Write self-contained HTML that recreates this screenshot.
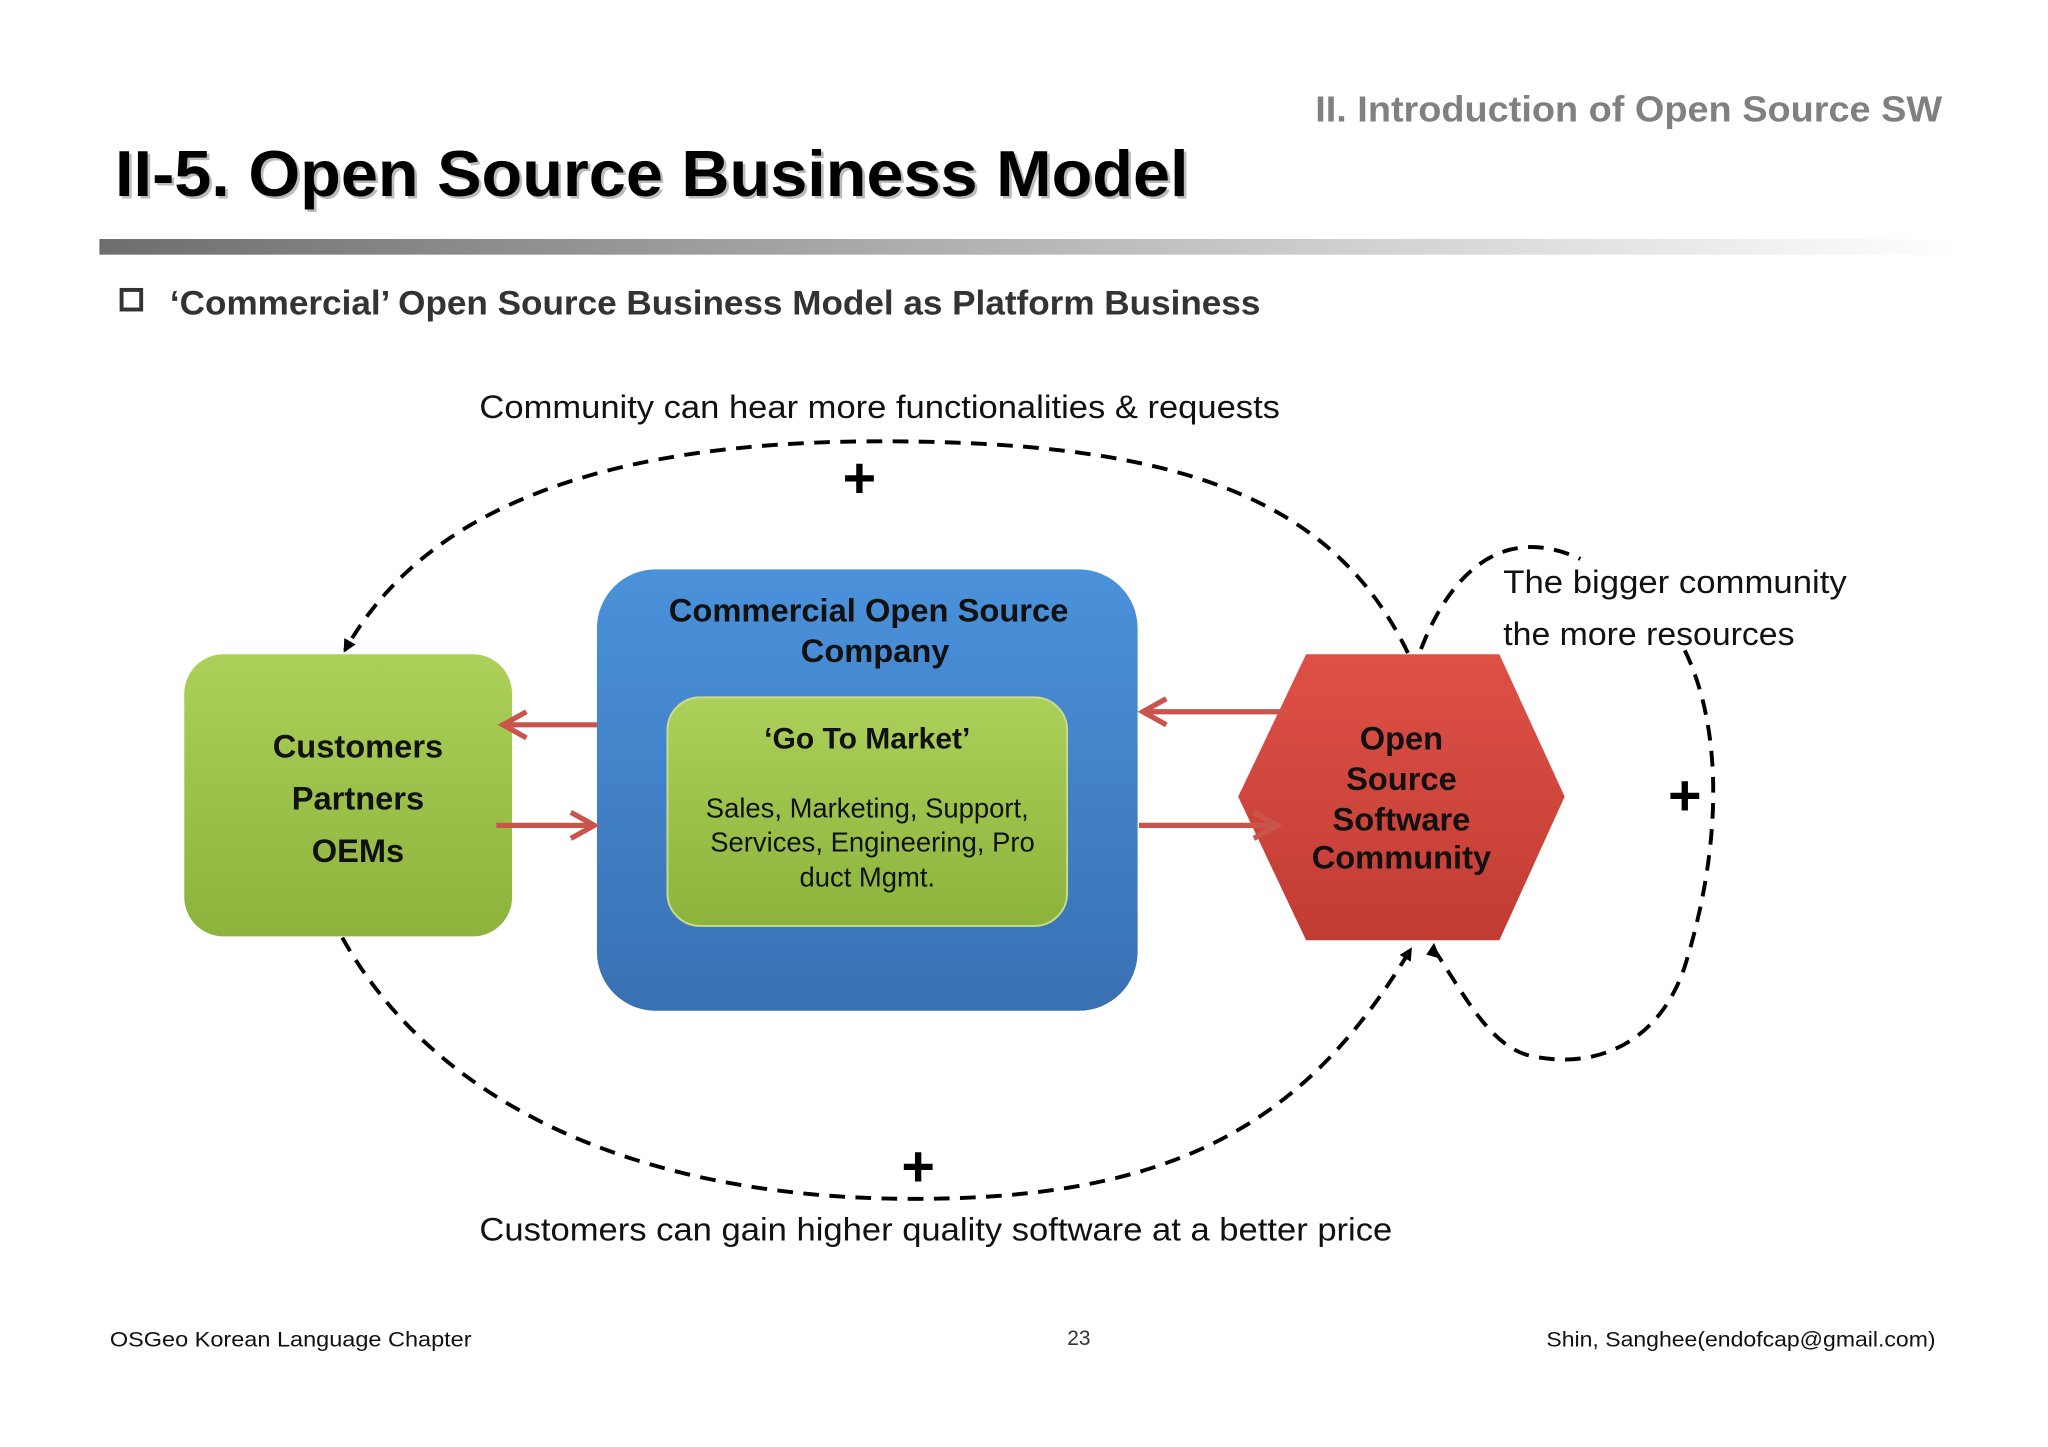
<!DOCTYPE html>
<html><head><meta charset="utf-8"><style>
html,body{margin:0;padding:0;background:#fff;}
svg{display:block;}
text{font-family:"Liberation Sans","DejaVu Sans",sans-serif;}
</style></head><body>
<svg width="2048" height="1447" viewBox="0 0 1568 1108" xmlns="http://www.w3.org/2000/svg">
<defs>
<linearGradient id="bar" x1="0" x2="1" y1="0" y2="0"><stop offset="0" stop-color="#6e6e6e"/><stop offset="1" stop-color="#ffffff"/></linearGradient>
<linearGradient id="g1" x1="0" x2="0" y1="0" y2="1"><stop offset="0" stop-color="#acd05a"/><stop offset="1" stop-color="#8cb33c"/></linearGradient>
<linearGradient id="b1" x1="0" x2="0" y1="0" y2="1"><stop offset="0" stop-color="#4a92db"/><stop offset="1" stop-color="#3970b3"/></linearGradient>
<linearGradient id="r1" x1="0" x2="0" y1="0" y2="1"><stop offset="0" stop-color="#de5046"/><stop offset="1" stop-color="#c13c33"/></linearGradient>
<marker id="ah" markerWidth="10" markerHeight="10" refX="8" refY="5" orient="auto" markerUnits="userSpaceOnUse"><path d="M0,0 L10,5 L0,10 Z" fill="#000"/></marker>
<marker id="rh" markerWidth="24" markerHeight="24" refX="20" refY="12" orient="auto" markerUnits="userSpaceOnUse"><path d="M2,2 L20,12 L2,22" fill="none" stroke="#c9544c" stroke-width="4"/></marker>
</defs>
<text x="1487" y="93" text-anchor="end" font-size="28" font-weight="bold" fill="#808080" textLength="480" lengthAdjust="spacingAndGlyphs">II. Introduction of Open Source SW</text>
<text x="90" y="152" font-size="50" font-weight="bold" fill="#bbb" textLength="822" lengthAdjust="spacingAndGlyphs">II-5. Open Source Business Model</text>
<text x="88" y="150" font-size="50" font-weight="bold" fill="#000" textLength="822" lengthAdjust="spacingAndGlyphs">II-5. Open Source Business Model</text>
<rect x="76" y="183" width="1424" height="12" fill="url(#bar)"/>
<rect x="93" y="222" width="15" height="15" fill="none" stroke="#333" stroke-width="3"/>
<text x="130" y="241" font-size="26" font-weight="bold" fill="#333" textLength="835" lengthAdjust="spacingAndGlyphs">‘Commercial’ Open Source Business Model as Platform Business</text>
<text x="367" y="320" font-size="25" fill="#111" textLength="613" lengthAdjust="spacingAndGlyphs">Community can hear more functionalities &amp; requests</text>
<g fill="none" stroke="#000" stroke-width="3" stroke-dasharray="12,8">
<path d="M1078,500 C1020,380 900,336 660,338 C480,340 330,380 264,498" marker-end="url(#ah)"/>
<path d="M262,718 C330,840 480,918 700,918 C900,918 1000,860 1080,727" marker-end="url(#ah)"/>
<path d="M1088,497 C1110,440 1150,400 1210,428 M1290,498 C1320,560 1318,650 1290,740 C1270,800 1220,820 1170,808 C1140,800 1120,760 1098,727" />
</g>
<path d="M1103,734 L1098,722 L1092,731" fill="#000"/>
<text x="658" y="381" text-anchor="middle" font-size="44" font-weight="bold">+</text>
<text x="703" y="908" text-anchor="middle" font-size="44" font-weight="bold">+</text>
<text x="1290" y="624" text-anchor="middle" font-size="44" font-weight="bold">+</text>
<text x="1151" y="454" font-size="25" fill="#111" textLength="263" lengthAdjust="spacingAndGlyphs">The bigger community</text>
<text x="1151" y="494" font-size="25" fill="#111" textLength="223" lengthAdjust="spacingAndGlyphs">the more resources</text>
<rect x="141" y="501" width="251" height="216" rx="30" fill="url(#g1)"/>
<g font-size="25" font-weight="bold" text-anchor="middle" fill="#111">
<text x="274" y="580">Customers</text><text x="274" y="620">Partners</text><text x="274" y="660">OEMs</text>
</g>
<rect x="457" y="436" width="414" height="338" rx="45" fill="url(#b1)"/>
<g font-size="25" font-weight="bold" text-anchor="middle" fill="#111">
<text x="665" y="476" textLength="306" lengthAdjust="spacingAndGlyphs">Commercial Open Source</text><text x="670" y="507">Company</text>
</g>
<rect x="511" y="534" width="306" height="175" rx="25" fill="url(#g1)" stroke="#c8dc8c" stroke-width="1.5"/>
<text x="664" y="573" font-size="23" font-weight="bold" text-anchor="middle" fill="#111">‘Go To Market’</text>
<g font-size="21" text-anchor="middle" fill="#111">
<text x="664" y="626">Sales, Marketing, Support,</text><text x="668" y="652">Services, Engineering, Pro</text><text x="664" y="679">duct Mgmt.</text>
</g>
<polygon points="1000,501 1148,501 1198,610 1148,720 1000,720 948,610" fill="url(#r1)"/>
<g font-size="25" font-weight="bold" text-anchor="middle" fill="#111">
<text x="1073" y="574">Open</text><text x="1073" y="605">Source</text><text x="1073" y="636">Software</text><text x="1073" y="665">Community</text>
</g>
<g stroke="#c9544c" stroke-width="4" fill="none">
<path d="M457,555 L385,555" marker-end="url(#rh)"/>
<path d="M380,632 L455,632" marker-end="url(#rh)"/>
<path d="M982,545 L875,545" marker-end="url(#rh)"/>
<path d="M872,632 L978,632" marker-end="url(#rh)"/>
</g>
<text x="367" y="950" font-size="25" fill="#111" textLength="699" lengthAdjust="spacingAndGlyphs">Customers can gain higher quality software at a better price</text>
<text x="84" y="1031" font-size="16" fill="#111" textLength="277" lengthAdjust="spacingAndGlyphs">OSGeo Korean Language Chapter</text>
<text x="826" y="1030" font-size="16" text-anchor="middle" fill="#333">23</text>
<text x="1184" y="1031" font-size="16" fill="#111" textLength="298" lengthAdjust="spacingAndGlyphs">Shin, Sanghee(endofcap@gmail.com)</text>
</svg>
</body></html>
